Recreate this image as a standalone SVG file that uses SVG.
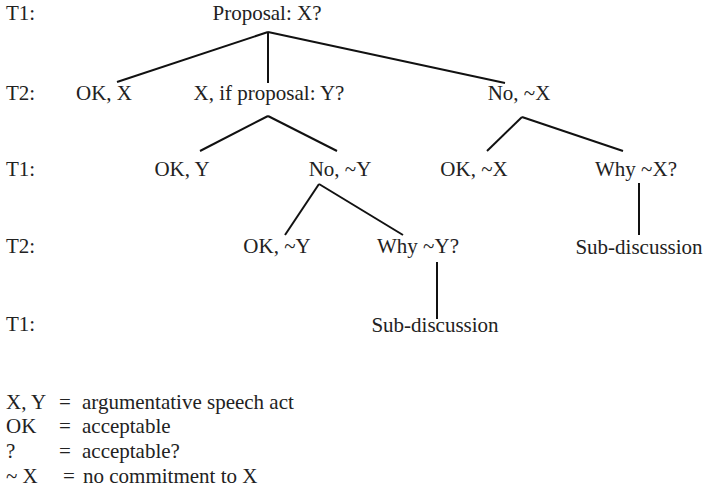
<svg xmlns="http://www.w3.org/2000/svg" width="706" height="494" viewBox="0 0 706 494" font-family="'Liberation Serif', 'DejaVu Serif', serif">
  <style>
    text { font-family: "Liberation Serif", "DejaVu Serif", serif; font-size: 21px; fill: #222; }
    .n { text-anchor: middle; }
    .edge { stroke: #111; stroke-width: 2; fill: none; stroke-linecap: butt; }
  </style>
  <rect width="706" height="494" fill="#fff"/>

  <!-- turn labels -->
  <g id="turns">
    <text x="6" y="20">T1:</text>
    <text x="6" y="100">T2:</text>
    <text x="6" y="176">T1:</text>
    <text x="6" y="253">T2:</text>
    <text x="6" y="331">T1:</text>
  </g>

  <!-- connectors -->
  <g id="connectors">
    <path class="edge" d="M268 32 L117 82"/>
    <path class="edge" d="M268 32 L268 83"/>
    <path class="edge" d="M268 32 L505 83"/>
    <path class="edge" d="M268 116 L200 151"/>
    <path class="edge" d="M268 116 L337 151"/>
    <path class="edge" d="M522 117 L487 151"/>
    <path class="edge" d="M522 117 L623 151"/>
    <path class="edge" d="M319 184 L285 235"/>
    <path class="edge" d="M319 184 L403 235"/>
    <path class="edge" d="M639 183 L639 235"/>
    <path class="edge" d="M437 262 L437 319"/>
  </g>

  <!-- nodes -->
  <g id="proposal-x"><text class="n" x="267" y="20">Proposal: X?</text></g>
  <g id="ok-x"><text class="n" x="104" y="100">OK, X</text></g>
  <g id="x-if-proposal-y"><text class="n" x="269" y="100">X, if proposal: Y?</text></g>
  <g id="no-x"><text class="n" x="519" y="100">No, ~X</text></g>
  <g id="ok-y"><text class="n" x="182" y="176">OK, Y</text></g>
  <g id="no-y"><text class="n" x="340" y="176">No, ~Y</text></g>
  <g id="ok-not-x"><text class="n" x="474" y="176">OK, ~X</text></g>
  <g id="why-x"><text class="n" x="636" y="176">Why ~X?</text></g>
  <g id="ok-not-y"><text class="n" x="277" y="253">OK, ~Y</text></g>
  <g id="why-y"><text class="n" x="418" y="253">Why ~Y?</text></g>
  <g id="sub-discussion-x"><text class="n" x="639" y="254">Sub-discussion</text></g>
  <g id="sub-discussion-y"><text class="n" x="435" y="332">Sub-discussion</text></g>

  <!-- legend -->
  <g id="legend">
    <text x="6" y="409">X, Y</text><text x="59" y="409">=</text><text x="82" y="409">argumentative speech act</text>
    <text x="6" y="433">OK</text><text x="59" y="433">=</text><text x="82" y="433">acceptable</text>
    <text x="6" y="458">?</text><text x="59" y="458">=</text><text x="82" y="458">acceptable?</text>
    <text x="6" y="483">~ X</text><text x="63" y="483">=</text><text x="83" y="483">no commitment to X</text>
  </g>
</svg>
